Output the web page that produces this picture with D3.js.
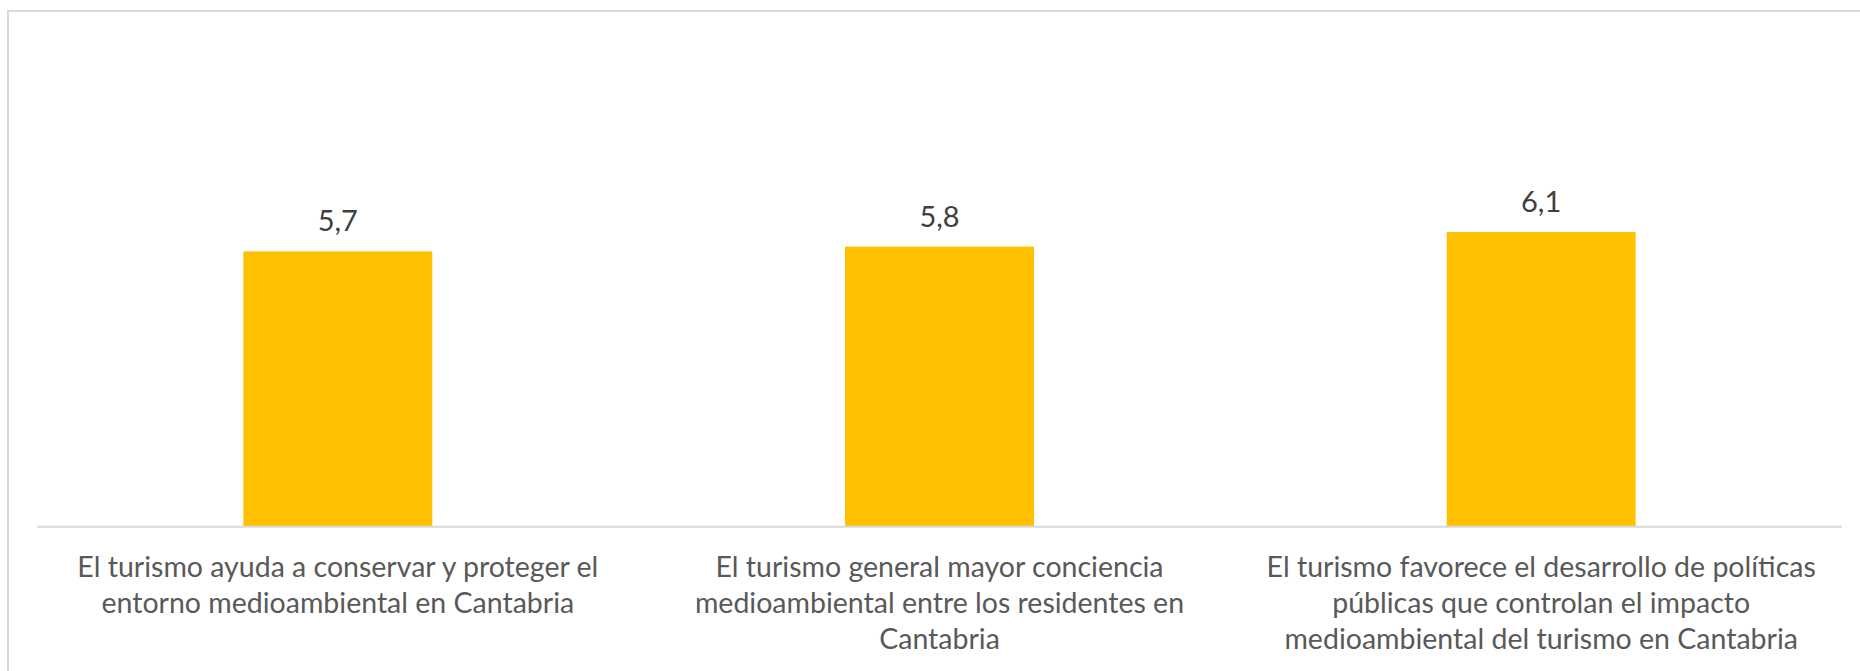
<!DOCTYPE html>
<html>
<head>
<meta charset="utf-8">
<script src="https://cdn.jsdelivr.net/npm/d3@7"></script>
<style>
  html, body { margin: 0; padding: 0; background: #ffffff; }
  svg { display: block; }
</style>
</head>
<body>
<svg id="chart" width="1860" height="671"></svg>
<script>
// Category labels (line breaks as drawn under each bar)
const categories = [
  "El turismo ayuda a conservar y proteger el\nentorno medioambiental en Cantabria",
  "El turismo general mayor conciencia\nmedioambiental entre los residentes en\nCantabria",
  "El turismo favorece el desarrollo de políticas\npúblicas que controlan el impacto\nmedioambiental del turismo en Cantabria"
];
// Mean score for each statement
const values = [5.7, 5.8, 6.1];
const yDomain = [0, 7];

const W = 1860, H = 671;
const plot = { left: 37, right: 1842, top: 188.6, bottom: 526.7 };

const svg = d3.select("#chart");

// Chart area frame (left and top edges visible)
svg.append("path")
  .attr("d", `M8,${H} V11 H${W}`)
  .attr("fill", "none")
  .attr("stroke", "#d9d9d9")
  .attr("stroke-width", 2);

const x = d3.scaleBand()
  .domain(categories)
  .range([plot.left, plot.right])
  .paddingInner(0.686)
  .paddingOuter(0.343);

const y = d3.scaleLinear()
  .domain(yDomain)
  .range([plot.bottom, plot.top]);

const fmt = v => d3.format(".1f")(v).replace(".", ",");

// Bars
svg.append("g")
  .selectAll("rect")
  .data(values)
  .join("rect")
  .attr("x", (d, i) => x(categories[i]))
  .attr("y", d => y(d))
  .attr("width", x.bandwidth())
  .attr("height", d => y(0) - y(d))
  .attr("fill", "#FFC000");

// Value labels
svg.append("g")
  .selectAll("text")
  .data(values)
  .join("text")
  .attr("x", (d, i) => x(categories[i]) + x.bandwidth() / 2)
  .attr("y", d => y(d) - 20)
  .attr("text-anchor", "middle")
  .attr("font-family", "Lato, 'Open Sans', sans-serif")
  .attr("font-size", 29)
  .attr("fill", "#404040")
  .text(d => fmt(d));

// Category axis
const xAxis = d3.axisBottom(x).tickSize(0).tickFormat("");
const gx = svg.append("g")
  .attr("transform", `translate(0,${plot.bottom})`)
  .call(xAxis);
gx.select(".domain")
  .attr("d", `M${plot.left},0 H${plot.right}`)
  .attr("stroke", "#d9d9d9")
  .attr("stroke-width", 2);

gx.selectAll(".tick text").remove();
gx.selectAll(".tick")
  .append("text")
  .attr("text-anchor", "middle")
  .attr("font-family", "Lato, 'Open Sans', sans-serif")
  .attr("font-size", 28.5)
  .attr("fill", "#595959")
  .selectAll("tspan")
  .data(d => d.split("\n"))
  .join("tspan")
  .attr("x", 0)
  .attr("y", (d, i) => 50 + i * 36)
  .text(d => d);
</script>
</body>
</html>
